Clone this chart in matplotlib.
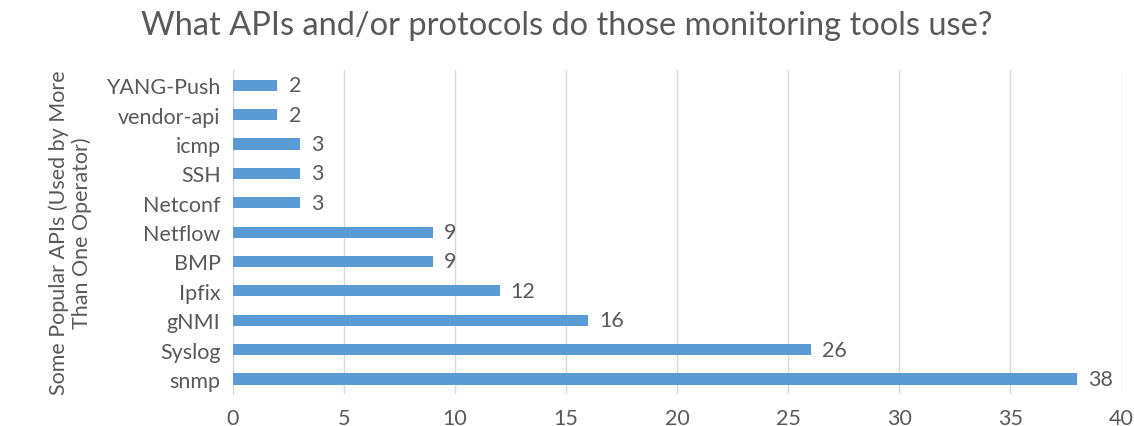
import matplotlib.pyplot as plt
import numpy as np

# Data (bottom to top)
apis = ["snmp", "Syslog", "gNMI", "Ipfix", "BMP", "Netflow",
        "Netconf", "SSH", "icmp", "vendor-api", "YANG-Push"]
counts = [38, 26, 16, 12, 9, 9, 3, 3, 3, 2, 2]
xticks = [0, 5, 10, 15, 20, 25, 30, 35, 40]

plt.rcParams['font.family'] = ['Lato', 'DejaVu Sans']
text_color = '#595959'

fig = plt.figure(figsize=(11.34, 4.27), dpi=100)
ax = fig.add_axes([0.2055, 0.0756, 0.7835, 0.757])

y = np.arange(len(apis))
ax.barh(y, counts, height=0.38, color='#5B9BD5', zorder=3)
for yi, c in zip(y, counts):
    ax.text(c + 0.5, yi, str(c), va='center', ha='left', fontsize=15.5, color=text_color)

ax.set_xlim(0, 40)
ax.set_ylim(-0.5, len(apis) - 0.5)
ax.set_xticks(xticks)
ax.set_yticks(y)
ax.set_yticklabels(apis)
ax.grid(axis='x', color='#D9D9D9', linewidth=1, zorder=0)
ax.tick_params(axis='both', length=0, labelsize=15.5, colors=text_color)
ax.tick_params(axis='x', pad=10)
ax.tick_params(axis='y', pad=9)
for s in ['top', 'right', 'bottom']:
    ax.spines[s].set_visible(False)
ax.spines['left'].set_color('#D9D9D9')

ax.set_ylabel("Some Popular APIs (Used by More\nThan One Operator)",
              fontsize=15.5, color=text_color, labelpad=10, linespacing=1.15)
fig.suptitle("What APIs and/or protocols do those monitoring tools use?",
             fontsize=23.5, color=text_color, y=0.975)

plt.savefig("out.png", dpi=100)
